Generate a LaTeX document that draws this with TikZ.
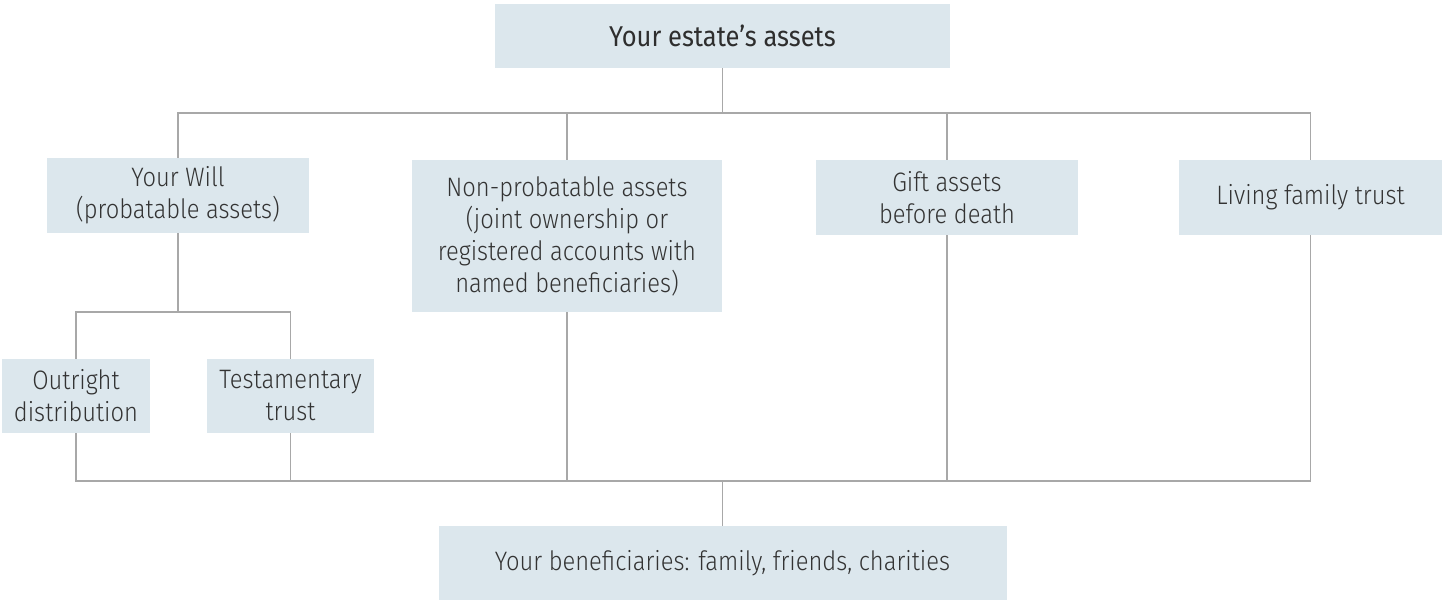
\documentclass[tikz,border=0pt]{standalone}
\usepackage{fontspec}
\setmainfont{Fira Sans}[UprightFont={* Light}, BoldFont={Fira Sans}, FakeStretch=0.89]
\definecolor{boxfill}{HTML}{DCE7ED}
\definecolor{linegray}{HTML}{A8A8A8}
\definecolor{txt}{HTML}{333333}
\begin{document}
\begin{tikzpicture}[x=0.75pt,y=-0.75pt,
  box/.style={rectangle, fill=boxfill, draw=none, inner sep=0pt, align=center,
    text=txt, font=\fontsize{20}{24}\selectfont},
  conn/.style={draw=linegray, line width=1pt}]
\useasboundingbox (0,0) rectangle (1442,600);
\node[box, minimum width=455*0.75pt, minimum height=64*0.75pt, font=\fontsize{21.5}{25}\selectfont\bfseries, text=txt!90!black] (top) at (722.5,36) {Your estate’s assets};
\node[box, minimum width=262*0.75pt, minimum height=75*0.75pt] (will) at (178,195.5) {Your Will\\(probatable assets)};
\node[box, minimum width=310*0.75pt, minimum height=152*0.75pt] (nonprob) at (567,236) {Non-probatable assets\\(joint ownership or\\registered accounts with\\named beneficiaries)};
\node[box, minimum width=262*0.75pt, minimum height=75*0.75pt] (gift) at (947,197.5) {Gift assets\\before death};
\node[box, minimum width=263*0.75pt, minimum height=75*0.75pt] (living) at (1310.5,197.5) {Living family trust};
\node[box, minimum width=148*0.75pt, minimum height=74*0.75pt] (outright) at (76,396) {Outright\\distribution};
\node[box, minimum width=167*0.75pt, minimum height=74*0.75pt] (testa) at (290.5,396) {Testamentary\\trust};
\node[box, minimum width=568*0.75pt, minimum height=74*0.75pt] (bottom) at (722.5,563) {Your beneficiaries: family, friends, charities};
\coordinate (bustop) at (722.5,113);
\coordinate (buswill) at (178,312);
\coordinate (busbot) at (722.5,481);
\draw[conn] (top.south) -- (top.south |- bustop);
\draw[conn] (will.north) -- (will.north |- bustop) -- (living.north |- bustop) -- (living.north);
\draw[conn] (nonprob.north) -- (nonprob.north |- bustop);
\draw[conn] (gift.north) -- (gift.north |- bustop);
\draw[conn] (will.south) -- (will.south |- buswill);
\draw[conn] (outright.north) -- (outright.north |- buswill) -- (testa.north |- buswill) -- (testa.north);
\draw[conn] (outright.south) -- (outright.south |- busbot) -- (living.south |- busbot) -- (living.south);
\draw[conn] (testa.south) -- (testa.south |- busbot);
\draw[conn] (nonprob.south) -- (nonprob.south |- busbot);
\draw[conn] (gift.south) -- (gift.south |- busbot);
\draw[conn] (busbot) -- (bottom.north);
\end{tikzpicture}
\end{document}
